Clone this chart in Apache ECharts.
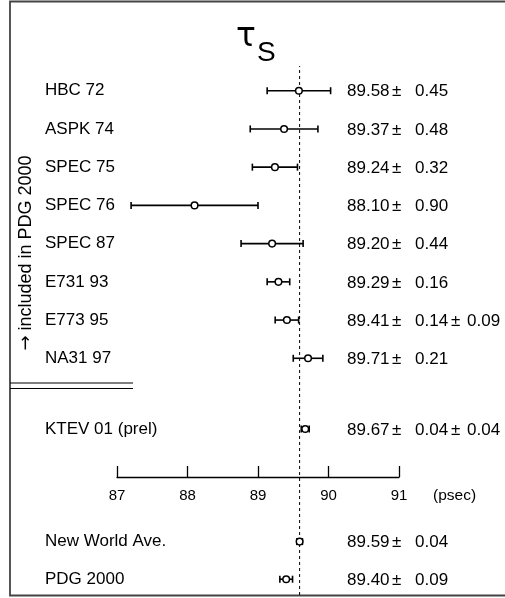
<!DOCTYPE html>
<html>
<head>
<meta charset="utf-8">
<script src="https://cdn.jsdelivr.net/npm/echarts@6/dist/echarts.min.js"></script>
<style>html,body{margin:0;padding:0;background:#fff;}#c{width:505px;height:598px;}</style>
</head>
<body>
<div id="c"></div>
<script>
// ---- data ----
const expNames = ['HBC 72', 'ASPK 74', 'SPEC 75', 'SPEC 76', 'SPEC 87', 'E731 93', 'E773 95', 'NA31 97'];
const expValues = [89.58, 89.37, 89.24, 88.10, 89.20, 89.29, 89.41, 89.71];
const expStat = [0.45, 0.48, 0.32, 0.90, 0.44, 0.16, 0.14, 0.21];
const expSys = [null, null, null, null, null, null, 0.09, null];

const ktevNames = ['KTEV 01 (prel)'];
const ktevValues = [89.67];
const ktevStat = [0.04];
const ktevSys = [0.04];

const avgNames = ['New World Ave.', 'PDG 2000'];
const avgValues = [89.59, 89.40];
const avgStat = [0.04, 0.09];
const avgSys = [null, null];

const axisTicks = [87, 88, 89, 90, 91];
const axisUnit = '(psec)';
const sideArrow = '\u2192';
const sideNote = 'included in PDG 2000';
const titleMain = '\u03c4';
const titleSub = 'S';

// ---- layout/style ----
const FONT = "'Liberation Sans', Arial, Helvetica, sans-serif";
const GL = 117, GR = 106;
const xMin = axisTicks[0], xMax = axisTicks[axisTicks.length - 1];

function makeSeries(gridIdx, vals, stats, syss) {
  const data = vals.map((v, i) => {
    const s = syss[i] == null ? 0 : syss[i];
    return [v, i, Math.sqrt(stats[i] * stats[i] + s * s)];
  });
  return {
    type: 'custom',
    xAxisIndex: gridIdx, yAxisIndex: gridIdx,
    data: data,
    clip: false,
    silent: true,
    z: 5,
    renderItem: function (params, api) {
      const i = params.dataIndex;
      const v = api.value(0), row = api.value(1), e = api.value(2);
      const c = api.coord([v, row]);
      const lo = api.coord([v - e, row]);
      const hi = api.coord([v + e, row]);
      const y = c[1];
      const ln = { stroke: '#000', lineWidth: 1.6 };
      const children = [
        { type: 'line', shape: { x1: lo[0], y1: y, x2: hi[0], y2: y }, style: ln },
        { type: 'line', shape: { x1: lo[0], y1: y - 3.5, x2: lo[0], y2: y + 3.5 }, style: ln },
        { type: 'line', shape: { x1: hi[0], y1: y - 3.5, x2: hi[0], y2: y + 3.5 }, style: ln },
        { type: 'circle', shape: { cx: c[0], cy: y, r: 3.3 }, style: { fill: '#fff', stroke: '#000', lineWidth: 1.5 } }
      ];
      const txt = (t, x) => ({
        type: 'text', x: x, y: y + 1,
        style: { text: t, fill: '#000', font: '17px ' + FONT, align: 'left', verticalAlign: 'middle', textAlign: 'left', textVerticalAlign: 'middle' }
      });
      children.push(txt(vals[i].toFixed(2), 347));
      children.push(txt('\u00b1', 392));
      children.push(txt(stats[i].toFixed(2), 415));
      if (syss[i] != null) {
        children.push(txt('\u00b1', 451));
        children.push(txt(syss[i].toFixed(2), 467));
      }
      return { type: 'group', children: children };
    }
  };
}

const hiddenX = (idx) => ({ type: 'value', gridIndex: idx, min: xMin, max: xMax, show: false });
const catY = (idx, names) => ({
  type: 'category', gridIndex: idx, data: names, inverse: true,
  axisLine: { show: false }, axisTick: { show: false }, splitLine: { show: false },
  axisLabel: { align: 'left', margin: GL - 45, fontSize: 17, fontFamily: FONT, color: '#000' }
});

const chart = echarts.init(document.getElementById('c'), null, { renderer: 'canvas' });
chart.setOption({
  animation: false,
  backgroundColor: '#fff',
  grid: [
    { left: GL, right: GR, top: 66, bottom: 3 },
    { left: GL, right: GR, top: 71.6, height: 305.8 },
    { left: GL, right: GR, top: 410, height: 38 },
    { left: GL, right: GR, top: 466, height: 11 },
    { left: GL, right: GR, top: 522.8, height: 79.6 }
  ],
  xAxis: [
    hiddenX(0), hiddenX(1), hiddenX(2),
    {
      type: 'value', gridIndex: 3, min: xMin, max: xMax, interval: 1,
      axisLine: { show: true, lineStyle: { color: '#000', width: 1.3 } },
      axisTick: { show: true, inside: true, length: 11, lineStyle: { color: '#000', width: 1.3 } },
      axisLabel: { margin: 11, fontSize: 15, fontFamily: FONT, color: '#000' },
      splitLine: { show: false }
    },
    hiddenX(4)
  ],
  yAxis: [
    { type: 'value', gridIndex: 0, min: 0, max: 1, show: false },
    catY(1, expNames),
    catY(2, ktevNames),
    { type: 'value', gridIndex: 3, min: 0, max: 1, show: false },
    catY(4, avgNames)
  ],
  series: [
    {
      type: 'line', xAxisIndex: 0, yAxisIndex: 0, silent: true, z: 1,
      data: [[avgValues[0], 0], [avgValues[0], 1]],
      symbol: 'none',
      lineStyle: { color: '#000', width: 1, type: [3, 3] }
    },
    makeSeries(1, expValues, expStat, expSys),
    makeSeries(2, ktevValues, ktevStat, ktevSys),
    makeSeries(4, avgValues, avgStat, avgSys)
  ],
  graphic: [
    { type: 'polyline', silent: true, shape: { points: [[505, 1.5], [10, 1.5], [10, 595.5], [505, 595.5]] }, style: { stroke: '#444', lineWidth: 1.8, fill: null } },
    { type: 'line', silent: true, shape: { x1: 10, y1: 383, x2: 133, y2: 383 }, style: { stroke: '#000', lineWidth: 1.2 } },
    { type: 'line', silent: true, shape: { x1: 10, y1: 388.5, x2: 133, y2: 388.5 }, style: { stroke: '#000', lineWidth: 1.2 } },
    { type: 'text', silent: true, x: 236, y: 37, style: { text: titleMain, font: "33px 'DejaVu Sans', sans-serif", fill: '#000', align: 'left', verticalAlign: 'middle', textAlign: 'left', textVerticalAlign: 'middle' } },
    { type: 'text', silent: true, x: 257, y: 53, style: { text: titleSub, font: '28px ' + FONT, fill: '#000', align: 'left', verticalAlign: 'middle', textAlign: 'left', textVerticalAlign: 'middle' } },
    { type: 'text', silent: true, x: 26, y: 243, rotation: Math.PI / 2, style: { text: sideNote, font: '18px ' + FONT, fill: '#000', align: 'center', verticalAlign: 'middle', textAlign: 'center', textVerticalAlign: 'middle' } },
    { type: 'text', silent: true, x: 26, y: 343, rotation: Math.PI / 2, style: { text: sideArrow, font: "18px 'DejaVu Sans', sans-serif", fill: '#000', align: 'center', verticalAlign: 'middle', textAlign: 'center', textVerticalAlign: 'middle' } },
    { type: 'text', silent: true, x: 433, y: 496, style: { text: axisUnit, font: '15.5px ' + FONT, fill: '#000', align: 'left', verticalAlign: 'middle', textAlign: 'left', textVerticalAlign: 'middle' } }
  ]
});
</script>
</body>
</html>
